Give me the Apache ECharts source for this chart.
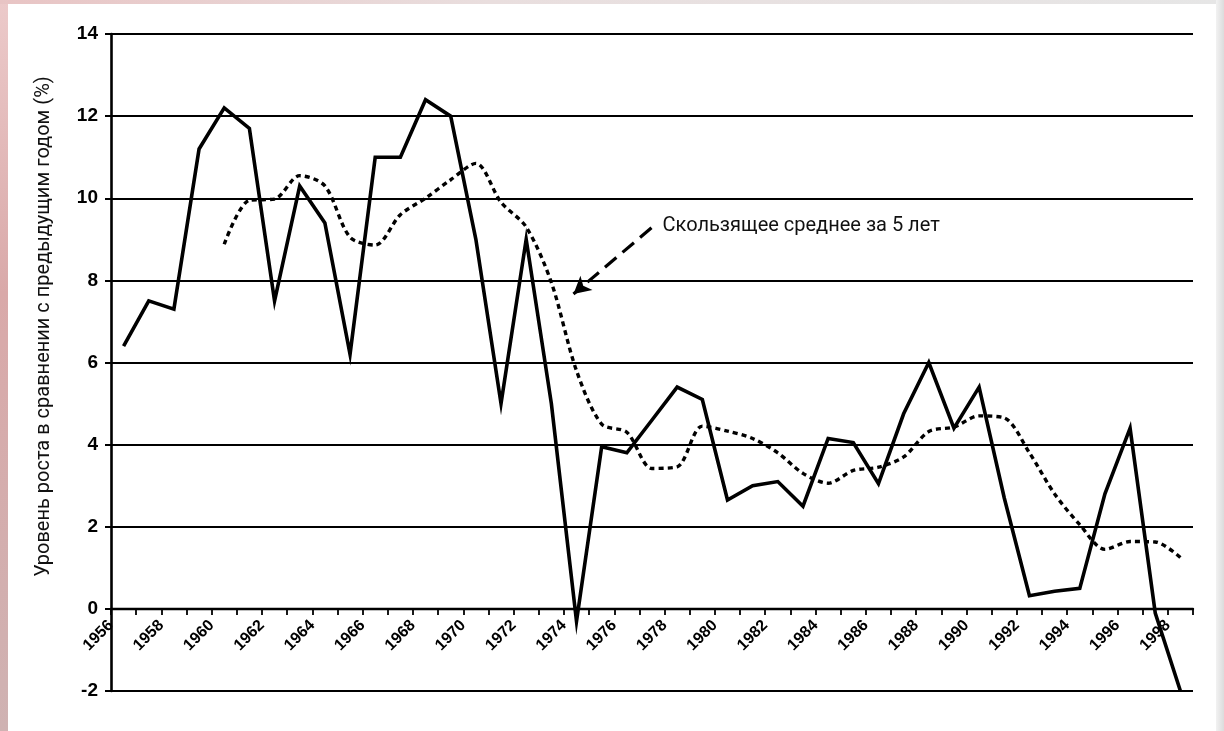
<!DOCTYPE html>
<html>
<head>
<meta charset="utf-8">
<script src="https://cdn.jsdelivr.net/npm/echarts@6/dist/echarts.min.js"></script>
<style>
  html, body { margin: 0; padding: 0; background: #ffffff; }
  #chart { position: absolute; left: 0; top: 0; width: 1224px; height: 731px; }
  .edge { position: absolute; pointer-events: none; }
  #edgeLeft { left: 0; top: 0; width: 8px; height: 731px; background: linear-gradient(180deg, #eccaca 0%, #d9a9a9 40%, #cfb2b2 100%); }
  #edgeTop { left: 0; top: 0; width: 1224px; height: 4px; background: linear-gradient(90deg, #e8c4c4 0%, #e9dede 40%, #e6e6e6 100%); }
  #edgeRight { left: 1216px; top: 0; width: 8px; height: 731px; background: linear-gradient(90deg, #f2f2f2 0%, #dcdcdc 100%); }
</style>
</head>
<body>
<div id="chart"></div>
<div class="edge" id="edgeLeft"></div>
<div class="edge" id="edgeTop"></div>
<div class="edge" id="edgeRight"></div>
<script>
// ---- data ----
var years = [1956,1957,1958,1959,1960,1961,1962,1963,1964,1965,
             1966,1967,1968,1969,1970,1971,1972,1973,1974,1975,
             1976,1977,1978,1979,1980,1981,1982,1983,1984,1985,
             1986,1987,1988,1989,1990,1991,1992,1993,1994,1995,
             1996,1997,1998];
var growth = [6.4, 7.5, 7.3, 11.2, 12.2, 11.7, 7.5, 10.3, 9.4, 6.2,
              11.0, 11.0, 12.4, 12.0, 9.0, 5.0, 9.0, 5.0, -0.3, 3.95,
              3.8, 4.6, 5.4, 5.1, 2.65, 3.0, 3.1, 2.5, 4.15, 4.05,
              3.05, 4.75, 6.0, 4.4, 5.4, 2.7, 0.32, 0.43, 0.5, 2.8,
              4.4, -0.1, -2.0];
var movingAvg = [null, null, null, null, 8.88, 9.95, 9.98, 10.55, 10.3, 9.05,
                 8.86, 9.6, 10.0, 10.45, 10.85, 9.9, 9.3, 7.95, 5.8, 4.5,
                 4.3, 3.42, 3.46, 4.45, 4.33, 4.15, 3.8, 3.3, 3.06, 3.37,
                 3.45, 3.7, 4.32, 4.43, 4.7, 4.65, 3.8, 2.8, 2.05, 1.45,
                 1.64, 1.63, 1.25];
var yTicks = { min: -2, max: 14, step: 2 };
var xRange = { min: 1956, max: 1999 };
var yAxisTitle = 'Уровень роста в сравнении с предыдущим годом (%)';
var annotationText = 'Скользящее среднее за 5 лет';
// annotation arrow, in data coordinates [year, value]
var arrowFrom = [1977.48, 9.28];
var arrowTo = [1974.38, 7.67];
var annotationAnchor = [1977.72, 9.33];

// each year occupies [Y, Y+1]; the value is drawn at mid-year
var growthData = years.map(function (y, i) { return [y + 0.5, growth[i]]; });
var maData = years.map(function (y, i) { return [y + 0.5, movingAvg[i]]; });

var gridTop = 34, gridBottom = 40, chartH = 731;
var plotH = chartH - gridTop - gridBottom;
// move the x axis (line, ticks, labels) up from the grid bottom to the value 0
var zeroOffset = -plotH * (0 - yTicks.min) / (yTicks.max - yTicks.min);

var chart = echarts.init(document.getElementById('chart'), null, { renderer: 'canvas' });
chart.setOption({
  animation: false,
  backgroundColor: '#ffffff',
  grid: { left: 111, right: 31, top: gridTop, bottom: gridBottom, containLabel: false },
  xAxis: {
    type: 'value',
    position: 'bottom',
    offset: zeroOffset,
    min: xRange.min,
    max: xRange.max,
    interval: 1,
    axisLine: { show: true, onZero: false, lineStyle: { color: '#000', width: 2.4 } },
    axisTick: { show: true, inside: false, length: 6, lineStyle: { color: '#000', width: 1.8 } },
    axisLabel: {
      rotate: 45,
      margin: 14,
      color: '#000',
      fontFamily: 'Liberation Sans',
      fontWeight: 'bold',
      fontSize: 16,
      formatter: function (v) { return (v % 2 === 0 && v <= 1998) ? String(v) : ''; }
    },
    splitLine: { show: false }
  },
  yAxis: {
    type: 'value',
    min: yTicks.min,
    max: yTicks.max,
    interval: yTicks.step,
    name: yAxisTitle,
    nameLocation: 'middle',
    nameGap: 57,
    nameTextStyle: {
      color: '#111',
      fontFamily: 'Roboto',
      fontSize: 20,
      padding: [0, 0, 0, 72]
    },
    axisLine: { show: true, onZero: false, lineStyle: { color: '#000', width: 2.6 } },
    axisTick: { show: true, inside: false, length: 6, lineStyle: { color: '#000', width: 2 } },
    axisLabel: {
      margin: 13,
      color: '#000',
      fontFamily: 'Liberation Sans',
      fontWeight: 'bold',
      fontSize: 19
    },
    splitLine: { show: true, lineStyle: { color: '#000', width: 2 } }
  },
  series: [
    {
      name: 'growth',
      type: 'line',
      data: growthData,
      showSymbol: false,
      symbol: 'none',
      lineStyle: { color: '#000', width: 3.6, join: 'miter', cap: 'butt' },
      z: 3
    },
    {
      name: 'ma5',
      type: 'line',
      data: maData,
      showSymbol: false,
      symbol: 'none',
      smooth: 0.3,
      connectNulls: false,
      lineStyle: { color: '#000', width: 3.4, type: [5, 4] },
      z: 2,
      markLine: {
        silent: true,
        symbol: ['none', 'arrow'],
        symbolSize: [14, 17],
        label: { show: false },
        lineStyle: { color: '#000', width: 3.2, type: [15, 8] },
        data: [[{ coord: arrowFrom }, { coord: arrowTo }]]
      },
      markPoint: {
        silent: true,
        symbol: 'circle',
        symbolSize: 0,
        itemStyle: { color: 'rgba(0,0,0,0)' },
        label: {
          show: true,
          position: 'right',
          distance: 5,
          color: '#111',
          fontFamily: 'Roboto',
          fontSize: 20,
          formatter: annotationText
        },
        data: [{ coord: annotationAnchor }]
      }
    }
  ]
});
</script>
</body>
</html>
